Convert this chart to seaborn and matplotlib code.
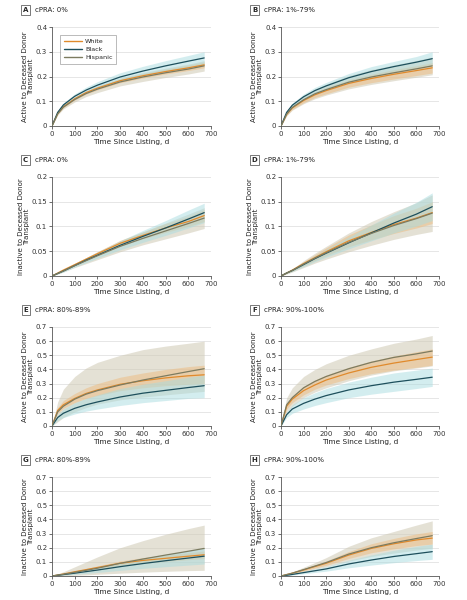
import numpy as np
import pandas as pd
import matplotlib
matplotlib.use("Agg")
import matplotlib.pyplot as plt
import seaborn as sns

DAYS = [0, 25, 50, 100, 150, 200, 300, 400, 500, 600, 670]
GROUPS = ["White", "Black", "Hispanic"]

# Panel A: active, cPRA 0%
A_WHITE = [0, .05, .078, .11, .135, .153, .183, .203, .22, .235, .247]
A_WHITE_LO = [0, .047, .074, .105, .129, .146, .175, .194, .21, .224, .235]
A_WHITE_HI = [0, .053, .082, .115, .141, .16, .191, .212, .23, .246, .259]
A_BLACK = [0, .055, .085, .12, .145, .165, .198, .222, .243, .262, .275]
A_BLACK_LO = [0, .05, .077, .11, .133, .151, .181, .203, .222, .239, .25]
A_BLACK_HI = [0, .06, .093, .13, .157, .179, .215, .241, .264, .285, .30]
A_HISP = [0, .049, .076, .107, .131, .149, .178, .198, .215, .23, .243]
A_HISP_LO = [0, .044, .069, .097, .119, .135, .162, .18, .196, .21, .222]
A_HISP_HI = [0, .054, .083, .117, .143, .163, .194, .216, .234, .25, .264]

# Panel B: active, cPRA 1%-79%
B_WHITE = [0, .047, .073, .103, .126, .143, .172, .192, .209, .224, .235]
B_WHITE_LO = [0, .043, .067, .094, .115, .13, .157, .175, .19, .204, .214]
B_WHITE_HI = [0, .051, .079, .112, .137, .156, .187, .209, .228, .244, .256]
B_BLACK = [0, .055, .084, .118, .143, .162, .195, .22, .24, .258, .272]
B_BLACK_LO = [0, .05, .076, .107, .13, .148, .178, .2, .219, .235, .247]
B_BLACK_HI = [0, .06, .092, .129, .156, .176, .212, .24, .261, .281, .30]
B_HISP = [0, .048, .075, .106, .13, .147, .177, .198, .215, .231, .243]
B_HISP_LO = [0, .041, .064, .09, .11, .125, .15, .168, .183, .197, .207]
B_HISP_HI = [0, .055, .086, .122, .15, .169, .204, .228, .247, .265, .279]

# Panel C: inactive, cPRA 0%
C_WHITE = [0, .006, .012, .023, .034, .045, .066, .082, .097, .11, .122]
C_WHITE_LO = [0, .005, .011, .021, .031, .041, .06, .075, .088, .1, .11]
C_WHITE_HI = [0, .007, .013, .025, .037, .049, .072, .089, .106, .12, .134]
C_BLACK = [0, .005, .01, .021, .032, .042, .062, .080, .097, .115, .128]
C_BLACK_LO = [0, .004, .008, .018, .027, .036, .053, .068, .082, .097, .108]
C_BLACK_HI = [0, .006, .012, .024, .037, .048, .071, .092, .112, .133, .147]
C_HISP = [0, .005, .01, .021, .031, .041, .060, .076, .091, .106, .117]
C_HISP_LO = [0, .004, .008, .017, .025, .033, .049, .063, .075, .087, .096]
C_HISP_HI = [0, .006, .012, .025, .037, .049, .071, .089, .107, .125, .138]

# Panel D: inactive, cPRA 1%-79%
D_WHITE = [0, .006, .012, .025, .037, .049, .071, .088, .104, .117, .128]
D_WHITE_LO = [0, .005, .01, .021, .031, .041, .059, .073, .086, .097, .106]
D_WHITE_HI = [0, .007, .014, .029, .043, .057, .083, .103, .122, .137, .15]
D_BLACK = [0, .006, .011, .023, .035, .046, .067, .087, .107, .125, .14]
D_BLACK_LO = [0, .005, .009, .019, .029, .038, .055, .071, .087, .101, .112]
D_BLACK_HI = [0, .007, .013, .027, .041, .054, .079, .103, .127, .149, .168]
D_HISP = [0, .006, .011, .024, .036, .047, .068, .086, .102, .116, .127]
D_HISP_LO = [0, .004, .008, .017, .026, .034, .049, .062, .074, .084, .09]
D_HISP_HI = [0, .008, .014, .031, .046, .06, .087, .11, .13, .148, .164]

# Panel E: active, cPRA 80%-89%
E_WHITE = [0, .11, .15, .195, .23, .255, .295, .32, .34, .355, .362]
E_WHITE_LO = [0, .09, .125, .165, .195, .215, .25, .27, .285, .295, .30]
E_WHITE_HI = [0, .13, .18, .23, .27, .3, .345, .375, .4, .42, .43]
E_BLACK = [0, .06, .09, .125, .15, .17, .205, .232, .252, .272, .285]
E_BLACK_LO = [0, .04, .06, .085, .105, .12, .145, .165, .18, .195, .2]
E_BLACK_HI = [0, .08, .12, .165, .195, .22, .265, .295, .32, .345, .36]
E_HISP = [0, .1, .14, .19, .225, .25, .29, .325, .355, .385, .405]
E_HISP_LO = [0, .03, .06, .1, .13, .155, .185, .205, .22, .235, .245]
E_HISP_HI = [0, .17, .26, .35, .41, .45, .50, .54, .565, .585, .60]

# Panel F: active, cPRA 90%-100%
F_WHITE = [0, .14, .19, .25, .29, .325, .375, .415, .445, .47, .487]
F_WHITE_LO = [0, .12, .165, .22, .26, .29, .335, .37, .395, .415, .43]
F_WHITE_HI = [0, .16, .215, .28, .325, .36, .415, .46, .495, .525, .545]
F_BLACK = [0, .08, .12, .16, .19, .215, .255, .285, .31, .33, .345]
F_BLACK_LO = [0, .06, .09, .12, .145, .165, .2, .225, .245, .265, .28]
F_BLACK_HI = [0, .1, .15, .2, .235, .265, .31, .345, .375, .395, .41]
F_HISP = [0, .15, .2, .27, .315, .35, .405, .45, .485, .51, .53]
F_HISP_LO = [0, .1, .14, .2, .24, .27, .32, .36, .39, .41, .425]
F_HISP_HI = [0, .2, .27, .35, .4, .44, .5, .545, .585, .615, .64]

# Panel G: inactive, cPRA 80%-89%
G_WHITE = [0, .007, .014, .03, .045, .06, .09, .11, .125, .14, .15]
G_WHITE_LO = [0, .005, .011, .024, .037, .049, .074, .09, .103, .115, .123]
G_WHITE_HI = [0, .009, .017, .036, .053, .071, .106, .13, .147, .165, .177]
G_BLACK = [0, .005, .01, .02, .031, .042, .066, .088, .108, .127, .14]
G_BLACK_LO = [0, .003, .006, .012, .018, .025, .04, .054, .066, .077, .085]
G_BLACK_HI = [0, .007, .014, .03, .046, .062, .095, .125, .153, .18, .2]
G_HISP = [0, .006, .012, .026, .04, .055, .09, .12, .148, .175, .195]
G_HISP_LO = [0, .001, .002, .005, .008, .012, .02, .027, .033, .038, .04]
G_HISP_HI = [0, .015, .03, .065, .1, .135, .2, .25, .295, .335, .36]

# Panel H: inactive, cPRA 90%-100%
H_WHITE = [0, .01, .02, .043, .067, .09, .148, .195, .228, .255, .268]
H_WHITE_LO = [0, .008, .017, .036, .056, .075, .124, .164, .192, .215, .226]
H_WHITE_HI = [0, .012, .024, .051, .079, .106, .173, .228, .266, .298, .315]
H_BLACK = [0, .005, .011, .024, .037, .05, .085, .113, .138, .158, .172]
H_BLACK_LO = [0, .003, .007, .016, .025, .034, .058, .077, .094, .109, .118]
H_BLACK_HI = [0, .007, .015, .032, .05, .067, .112, .149, .182, .21, .225]
H_HISP = [0, .01, .02, .045, .07, .095, .155, .2, .235, .265, .285]
H_HISP_LO = [0, .007, .014, .03, .048, .065, .105, .138, .162, .183, .197]
H_HISP_HI = [0, .014, .028, .062, .095, .13, .21, .27, .315, .36, .39]

PANEL_LETTERS = ["A", "B", "C", "D", "E", "F", "G", "H"]
PANEL_TITLES = ["cPRA: 0%", "cPRA: 1%-79%", "cPRA: 0%", "cPRA: 1%-79%",
                "cPRA: 80%-89%", "cPRA: 90%-100%", "cPRA: 80%-89%", "cPRA: 90%-100%"]
Y_LABELS = ["Active to Deceased Donor\nTransplant", "Inactive to Deceased Donor\nTransplant"]
Y_TICKS_SMALL_A = [0, 0.1, 0.2, 0.3, 0.4]
Y_TICKS_SMALL_I = [0, 0.05, 0.1, 0.15, 0.2]
Y_TICKS_LARGE = [0, 0.1, 0.2, 0.3, 0.4, 0.5, 0.6, 0.7]
X_TICKS = [0, 100, 200, 300, 400, 500, 600, 700]

PANELS = [
    (A_WHITE, A_WHITE_LO, A_WHITE_HI, A_BLACK, A_BLACK_LO, A_BLACK_HI, A_HISP, A_HISP_LO, A_HISP_HI),
    (B_WHITE, B_WHITE_LO, B_WHITE_HI, B_BLACK, B_BLACK_LO, B_BLACK_HI, B_HISP, B_HISP_LO, B_HISP_HI),
    (C_WHITE, C_WHITE_LO, C_WHITE_HI, C_BLACK, C_BLACK_LO, C_BLACK_HI, C_HISP, C_HISP_LO, C_HISP_HI),
    (D_WHITE, D_WHITE_LO, D_WHITE_HI, D_BLACK, D_BLACK_LO, D_BLACK_HI, D_HISP, D_HISP_LO, D_HISP_HI),
    (E_WHITE, E_WHITE_LO, E_WHITE_HI, E_BLACK, E_BLACK_LO, E_BLACK_HI, E_HISP, E_HISP_LO, E_HISP_HI),
    (F_WHITE, F_WHITE_LO, F_WHITE_HI, F_BLACK, F_BLACK_LO, F_BLACK_HI, F_HISP, F_HISP_LO, F_HISP_HI),
    (G_WHITE, G_WHITE_LO, G_WHITE_HI, G_BLACK, G_BLACK_LO, G_BLACK_HI, G_HISP, G_HISP_LO, G_HISP_HI),
    (H_WHITE, H_WHITE_LO, H_WHITE_HI, H_BLACK, H_BLACK_LO, H_BLACK_HI, H_HISP, H_HISP_LO, H_HISP_HI),
]

LINE_COLORS = {"White": "#E08A2C", "Black": "#1D4F5C", "Hispanic": "#7C7B60"}
BAND_COLORS = {"White": "#EDBE85", "Black": "#A9DCE0", "Hispanic": "#CFC9B4"}
BAND_ALPHA = {"White": 0.55, "Black": 0.5, "Hispanic": 0.55}

sns.set_theme(style="white")
plt.rcParams["font.family"] = ["DejaVu Sans"]

fig = plt.figure(figsize=(4.67, 6.0), dpi=100)

W, H = 467.0, 600.0
col_x = [(52, 211), (281, 439)]
row_y = [(27, 126), (177, 276), (327, 426), (477, 576)]

for i, vals in enumerate(PANELS):
    r, c = divmod(i, 2)
    x0, x1 = col_x[c]
    yt, yb = row_y[r]
    ax = fig.add_axes([x0 / W, 1 - yb / H, (x1 - x0) / W, (yb - yt) / H])

    rows = []
    for g, k in zip(GROUPS, range(3)):
        mid, lo, hi = vals[3 * k], vals[3 * k + 1], vals[3 * k + 2]
        for d, m, l, h in zip(DAYS, mid, lo, hi):
            rows.append({"Days": d, "Value": m, "Lo": l, "Hi": h, "Group": g})
    df = pd.DataFrame(rows)

    for g in ["Hispanic", "White", "Black"]:
        sub = df[df["Group"] == g]
        ax.fill_between(sub["Days"], sub["Lo"], sub["Hi"], color=BAND_COLORS[g],
                        alpha=BAND_ALPHA[g], linewidth=0, zorder=1)

    sns.lineplot(data=df, x="Days", y="Value", hue="Group", hue_order=GROUPS,
                 palette=LINE_COLORS, linewidth=0.9, ax=ax, legend=(i == 0), zorder=3)

    ax.set_xlim(0, 700)
    ax.set_xticks(X_TICKS)
    ax.set_xticklabels([str(t) for t in X_TICKS])
    if r == 0:
        yticks = Y_TICKS_SMALL_A
    elif r == 1:
        yticks = Y_TICKS_SMALL_I
    else:
        yticks = Y_TICKS_LARGE
    ax.set_ylim(0, yticks[-1])
    ax.set_yticks(yticks)
    ax.set_yticklabels([("%g" % t) for t in yticks])
    ax.yaxis.grid(True, color="#E2E2E2", linewidth=0.6)
    ax.set_axisbelow(True)
    for s in ["top", "right"]:
        ax.spines[s].set_visible(False)
    for s in ["left", "bottom"]:
        ax.spines[s].set_color("#555555")
        ax.spines[s].set_linewidth(0.6)
    ax.tick_params(axis="both", labelsize=5, length=2, width=0.5, pad=1.5,
                   colors="#333333", direction="out", bottom=True, left=True)
    ax.set_xlabel("Time Since Listing, d", fontsize=5.3, labelpad=1.5, color="#222222")
    ax.set_ylabel(Y_LABELS[r % 2], fontsize=5, labelpad=1, color="#222222",
                  linespacing=1.0)

    # panel label
    lx = 0.055 if c == 0 else 0.545
    ly = 1 - 10 / H if r == 0 else 1 - (row_y[r][0] - 17) / H
    fig.text(lx, ly, PANEL_LETTERS[i], fontsize=5, fontweight="bold", ha="center", va="center",
             bbox=dict(boxstyle="square,pad=0.25", fc="white", ec="#444444", lw=0.5))
    fig.text(lx + 0.02, ly, PANEL_TITLES[i], fontsize=5, ha="left", va="center", color="#222222")

    if i == 0:
        leg = ax.legend(loc="upper left", bbox_to_anchor=(0.03, 0.95), fontsize=4.6,
                        frameon=True, handlelength=2.8, borderpad=0.6, handletextpad=0.5,
                        labelspacing=0.35, fancybox=False)
        leg.get_frame().set_edgecolor("#888888")
        leg.get_frame().set_linewidth(0.5)
        for line in leg.get_lines():
            line.set_linewidth(1.0)

fig.savefig("out.png", dpi=100)
